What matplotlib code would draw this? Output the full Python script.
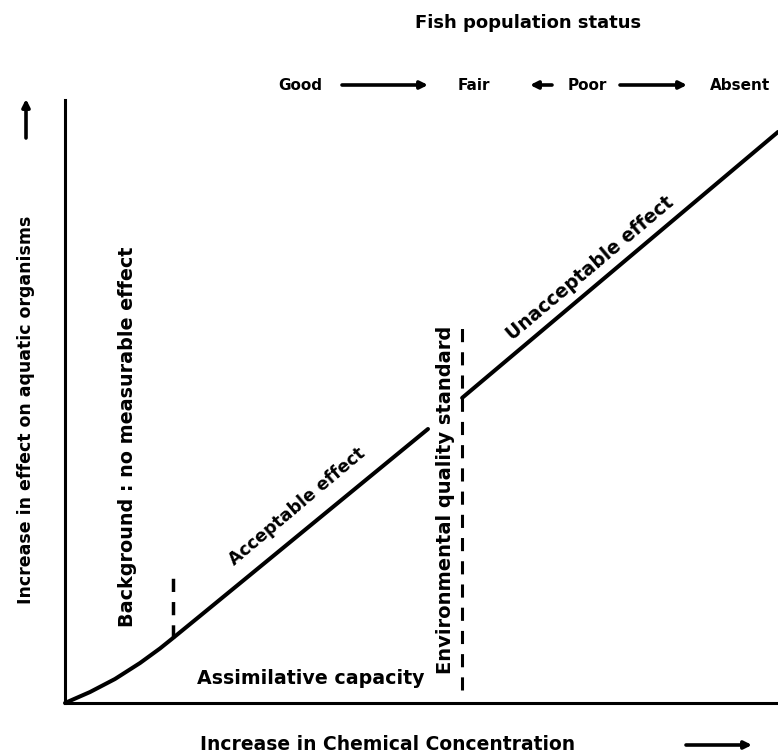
import numpy as np
import matplotlib
matplotlib.use("Agg")
import matplotlib.pyplot as plt
from matplotlib.patches import FancyArrowPatch

plt.rcParams['font.family'] = ['DejaVu Sans']
plt.rcParams['font.weight'] = 'bold'

# ---- data (schematic, arbitrary units 0-100) ----
conc_low = [0, 3.51, 7.01, 10.52, 13.32, 15.15, 18.93, 25.95, 32.96, 39.97, 46.98, 50.91]
effect_low = [0, 1.82, 3.98, 6.63, 9.04, 10.78, 14.43, 21.23, 28.03, 34.83, 41.63, 45.44]
conc_high = [55.7, 100.0]
effect_high = [50.6, 94.7]
background_x = 15.15
background_y = [10.78, 21.7]
eqs_x = 55.7
eqs_y = [2.2, 63.5]

status_labels = ["Good", "Fair", "Poor", "Absent"]
title_text = "Fish population status"
xlabel_text = "Increase in Chemical Concentration"
ylabel_text = "Increase in effect on aquatic organisms"

W, H = 778, 756
fig = plt.figure(figsize=(W / 100, H / 100), dpi=100)
fig.patch.set_facecolor('white')

def fx(px):
    return px / W

def fy(py):
    return 1 - py / H

ax = fig.add_axes([fx(65), fy(703), fx(778) - fx(65), fy(100) - fy(703)])
ax.set_xlim(0, 100)
ax.set_ylim(0, 100)
for s in ['top', 'right']:
    ax.spines[s].set_visible(False)
for s in ['left', 'bottom']:
    ax.spines[s].set_linewidth(2.2)
    ax.spines[s].set_color('black')
ax.set_xticks([])
ax.set_yticks([])

# curves
ax.plot(conc_low, effect_low, color='black', lw=2.9, solid_capstyle='round',
        solid_joinstyle='round', clip_on=False)
ax.plot(conc_high, effect_high, color='black', lw=2.9, solid_capstyle='round', clip_on=False)

# dashed threshold lines
ax.plot([background_x, background_x], background_y, color='black', lw=2.5,
        dashes=(3.8, 2.9), clip_on=False)
ax.plot([eqs_x, eqs_x], eqs_y, color='black', lw=2.2,
        dashes=(4.3, 3.3), clip_on=False)

# rotation angle for sloped labels
p0 = ax.transData.transform((conc_high[0], effect_high[0]))
p1 = ax.transData.transform((conc_high[1], effect_high[1]))
ang = np.degrees(np.arctan2(p1[1] - p0[1], p1[0] - p0[0]))

txt = dict(color='black', fontweight='bold')

fig.text(fx(297), fy(507), "Acceptable effect", rotation=ang, ha='center', va='center',
         fontsize=12.5, **txt)
fig.text(fx(590), fy(268), "Unacceptable effect", rotation=ang, ha='center', va='center',
         fontsize=13.5, **txt)
fig.text(fx(128), fy(437), "Background : no measurable effect", rotation=90,
         ha='center', va='center', fontsize=13.8, **txt)
fig.text(fx(445), fy(500), "Environmental quality standard", rotation=90,
         ha='center', va='center', fontsize=14, **txt)
fig.text(fx(311), fy(678), "Assimilative capacity", ha='center', va='center',
         fontsize=13.7, **txt)

# axis labels
fig.text(fx(200), fy(745), xlabel_text, ha='left', va='center', fontsize=13.5, **txt)
fig.text(fx(26), fy(410), ylabel_text, rotation=90, ha='center', va='center',
         fontsize=12.5, **txt)

arrow_kw = dict(arrowstyle='-|>', color='black', lw=2.6, mutation_scale=11,
                shrinkA=0, shrinkB=0)
fig.add_artist(FancyArrowPatch((fx(686), fy(745)), (fx(752), fy(745)),
                               transform=fig.transFigure, **arrow_kw))
fig.add_artist(FancyArrowPatch((fx(26), fy(138)), (fx(26), fy(99)),
                               transform=fig.transFigure, **arrow_kw))

# fish population status
fig.text(fx(528), fy(23), title_text, ha='center', va='center', fontsize=13, **txt)
sy = 85
fig.text(fx(300), fy(sy), status_labels[0], ha='center', va='center', fontsize=11, **txt)
fig.text(fx(474), fy(sy), status_labels[1], ha='center', va='center', fontsize=11, **txt)
fig.text(fx(587), fy(sy), status_labels[2], ha='center', va='center', fontsize=11, **txt)
fig.text(fx(740), fy(sy), status_labels[3], ha='center', va='center', fontsize=11, **txt)
for a, b in [(342, 428), (552, 530), (620, 687)]:
    fig.add_artist(FancyArrowPatch((fx(a), fy(sy)), (fx(b), fy(sy)),
                                   transform=fig.transFigure, **arrow_kw))

fig.savefig("out.png", dpi=100, facecolor='white')
